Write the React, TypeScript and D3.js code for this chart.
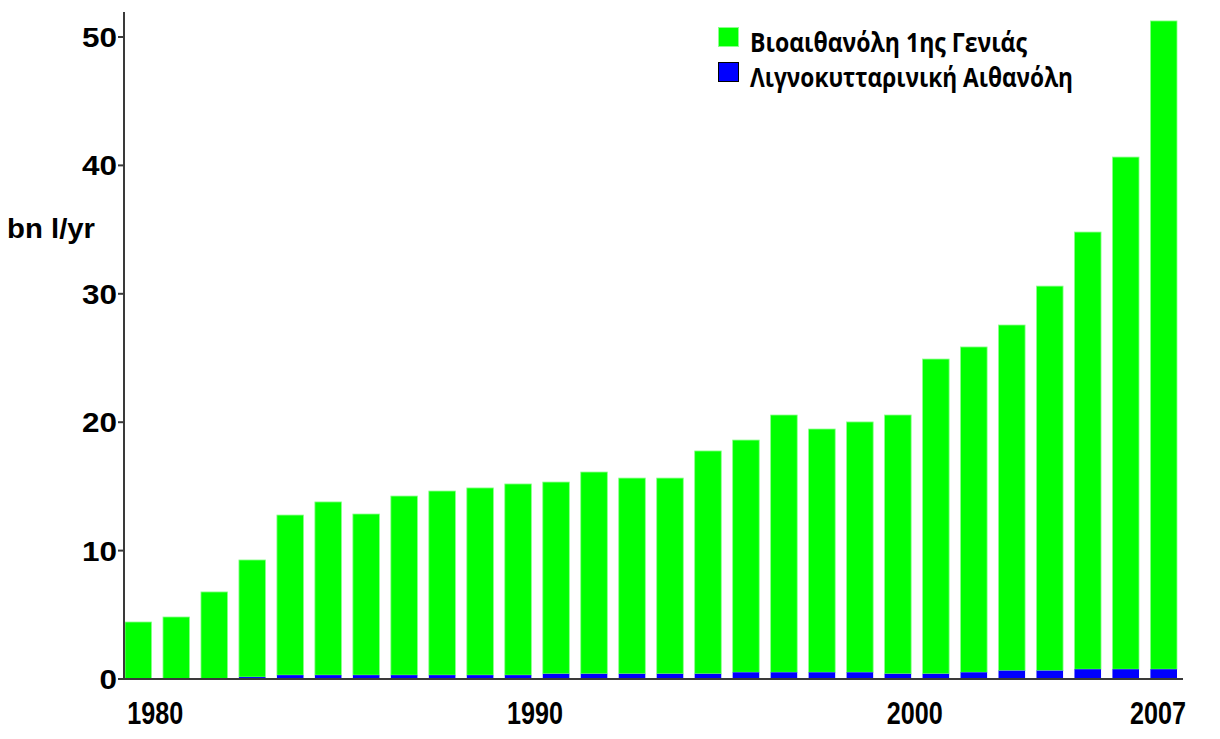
import React from "react";
import * as d3 from "d3";

const years = [
  1980, 1981, 1982, 1983, 1984, 1985, 1986, 1987, 1988, 1989,
  1990, 1991, 1992, 1993, 1994, 1995, 1996, 1997, 1998, 1999,
  2000, 2001, 2002, 2003, 2004, 2005, 2006, 2007,
];
// Λιγνοκυτταρινική Αιθανόλη (bottom segment)
const cellulosic = [
  0, 0, 0, 0.15, 0.3, 0.3, 0.3, 0.3, 0.3, 0.3,
  0.3, 0.4, 0.4, 0.4, 0.4, 0.4, 0.52, 0.52, 0.52, 0.52,
  0.4, 0.4, 0.52, 0.65, 0.65, 0.76, 0.76, 0.76,
];
// Βιοαιθανόλη 1ης Γενιάς (stacked on top)
const firstGen = [
  4.44, 4.83, 6.78, 9.12, 12.47, 13.49, 12.55, 13.95, 14.34, 14.58,
  14.89, 14.94, 15.72, 15.25, 15.25, 17.36, 18.09, 20.04, 18.95, 19.5,
  20.16, 24.52, 25.34, 26.92, 29.95, 34.05, 39.89, 50.49,
];
const yTicks = [0, 10, 20, 30, 40, 50];
const xTickYears = [1980, 1990, 2000, 2007];
const legendLabels = ["Βιοαιθανόλη 1ης Γενιάς", "Λιγνοκυτταρινική Αιθανόλη"];
const colors = ["#00ff00", "#0000ff"];

export default function App() {
  const W = 1220, H = 739;
  const y = d3.scaleLinear().domain([0, 50]).range([679, 37]);
  const x = d3
    .scaleBand<number>()
    .domain(years)
    .range([125, 1177])
    .paddingInner(0.3)
    .paddingOuter(0);
  const bw = x.bandwidth();
  const step = x.step();
  const axisColor = "#3a3a3a";
  const numFont = "'Liberation Sans', Arial, sans-serif";

  return (
    <svg
      width={W}
      height={H}
      style={{ position: "absolute", left: 0, top: 0, background: "#fff" }}
    >
      {/* bars */}
      {years.map((yr, i) => {
        const x0 = x(yr)!;
        const b = cellulosic[i];
        const g = firstGen[i];
        return (
          <g key={yr}>
            <rect
              x={x0}
              y={y(b + g)}
              width={bw}
              height={y(b) - y(b + g)}
              fill={colors[0]}
              stroke="#8dff8d"
              strokeWidth={0.8}
            />
            {b > 0 && (
              <rect
                x={x0}
                y={y(b)}
                width={bw}
                height={y(0) - y(b)}
                fill={colors[1]}
              />
            )}
          </g>
        );
      })}

      {/* axes */}
      <line x1={124} x2={124} y1={12} y2={y(0)} stroke={axisColor} strokeWidth={2} />
      <line x1={124} x2={1183} y1={y(0)} y2={y(0)} stroke={axisColor} strokeWidth={2} />
      {yTicks.map((t) => (
        <g key={t}>
          <line x1={118} x2={124} y1={y(t)} y2={y(t)} stroke={axisColor} strokeWidth={2} />
          <text
            x={117}
            y={y(t) + 10}
            textAnchor="end"
            fontFamily={numFont}
            fontWeight="bold"
            fontSize={27}
            textLength={String(t).length * 17.5}
            lengthAdjust="spacingAndGlyphs"
            fill="#000"
          >
            {t}
          </text>
        </g>
      ))}
      {xTickYears.map((yr) => {
        const cx = Math.min(x(yr)! + bw / 2 + step / 2 - 2, 1188 - 30);
        return (
          <text
            key={yr}
            x={cx}
            y={724}
            textAnchor="middle"
            fontFamily={numFont}
            fontWeight="bold"
            fontSize={31}
            textLength={56}
            lengthAdjust="spacingAndGlyphs"
            fill="#000"
          >
            {yr}
          </text>
        );
      })}

      {/* y label */}
      <text
        x={7}
        y={238}
        fontFamily={numFont}
        fontWeight="bold"
        fontSize={28}
        textLength={88}
        lengthAdjust="spacingAndGlyphs"
        fill="#000"
      >
        bn l/yr
      </text>

      {/* legend */}
      {legendLabels.map((lab, i) => (
        <g key={lab}>
          <rect
            x={718.5}
            y={27.5 + i * 35}
            width={20}
            height={19}
            fill={colors[i]}
            stroke={i === 0 ? "#8dff8d" : "#000"}
            strokeWidth={1}
          />
          <text
            x={750}
            y={52 + i * 35}
            fontFamily="'Open Sans', 'Noto Sans', sans-serif"
            fontWeight="bold"
            fontSize={26}
            textLength={i === 0 ? 277 : 323}
            lengthAdjust="spacingAndGlyphs"
            fill="#000"
          >
            {lab}
          </text>
        </g>
      ))}
    </svg>
  );
}
